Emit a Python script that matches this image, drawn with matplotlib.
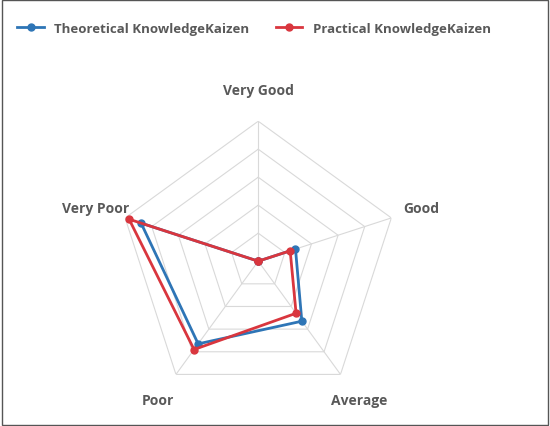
import numpy as np
import matplotlib
matplotlib.use("Agg")
import matplotlib.pyplot as plt

categories = ["Very Good", "Good", "Average", "Poor", "Very Poor"]
theoretical = [0.0, 1.4, 2.65, 3.65, 4.4]
practical = [0.0, 1.2, 2.3, 3.9, 4.85]
series_names = ["Theoretical KnowledgeKaizen", "Practical KnowledgeKaizen"]
colors = ["#2E75B6", "#D9363E"]

fig = plt.figure(figsize=(5.5, 4.27), dpi=100)
fig.patches.append(plt.Rectangle((0.003, 0.003), 0.994, 0.994, transform=fig.transFigure,
                                 fill=False, edgecolor="#555555", lw=1))
ax = fig.add_axes([0.215, 0.058, 0.509, 0.656], projection="polar")
ax.set_theta_offset(np.pi / 2)
ax.set_theta_direction(-1)
n = len(categories)
ang = np.linspace(0, 2 * np.pi, n, endpoint=False)
angc = np.append(ang, ang[0])
for r in range(1, 6):
    ax.plot(angc, [r] * (n + 1), color="#D9D9D9", lw=0.8, zorder=1)
for a in ang:
    ax.plot([a, a], [0, 5], color="#D9D9D9", lw=0.8, zorder=1)
ax.grid(False)
ax.spines["polar"].set_visible(False)
ax.set_yticks([])
ax.set_xticks(ang)
ax.set_xticklabels(categories, fontsize=10, fontweight="bold", color="#595959",
                   family="Open Sans")
ax.tick_params(axis="x", pad=12)
ax.set_ylim(0, 5)
for vals, name, c in zip([theoretical, practical], series_names, colors):
    v = np.append(vals, vals[0])
    ax.plot(angc, v, color=c, lw=2, marker="o", ms=5, label=name, zorder=3)
fig.legend(loc="upper left", bbox_to_anchor=(0.01, 0.975), ncol=2, frameon=False,
           prop={"weight": "bold", "size": 9.5, "family": "Open Sans"}, labelcolor="#595959",
           handlelength=2.0, columnspacing=2.0)
fig.savefig("out.png", dpi=100)
